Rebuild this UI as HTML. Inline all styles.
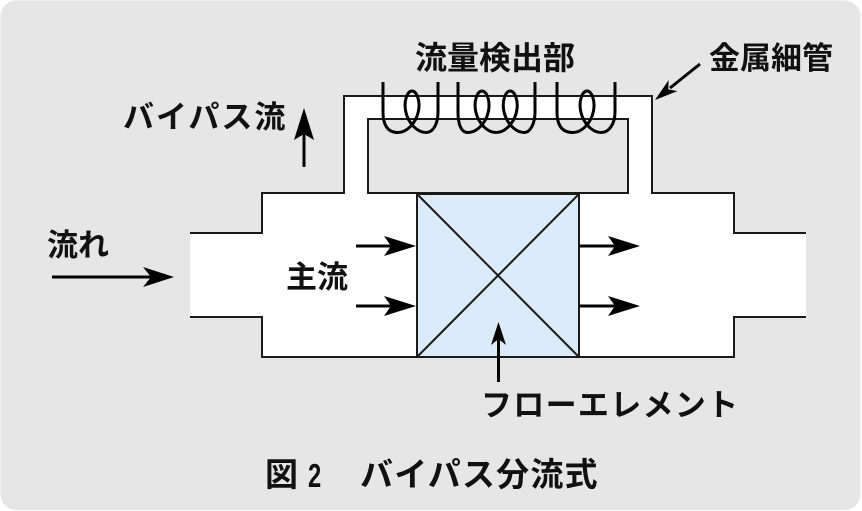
<!DOCTYPE html>
<html><head><meta charset="utf-8"><style>
html,body{margin:0;padding:0;background:#fff;}
svg{display:block;}
text{font-family:"Liberation Sans","Noto Sans CJK JP",sans-serif;font-weight:bold;fill:#111;}
</style></head><body>
<svg width="862" height="511" viewBox="0 0 862 511" xmlns="http://www.w3.org/2000/svg">
<rect x="0.5" y="0.5" width="860" height="509.5" rx="16" ry="16" fill="#e6e6e6"/>
<!-- pipe white region -->
<polygon points="190,233 262,233 262,193 344,193 344,96 652,96 652,193 734,193 734,233 806,233 806,317 734,317 734,357 262,357 262,317 190,317" fill="#fff"/>
<polyline points="190,233 262,233 262,193 344,193 344,96 652,96 652,193 734,193 734,233 806,233" fill="none" stroke="#1a1a1a" stroke-width="2"/>
<polyline points="806,317 734,317 734,357 262,357 262,317 190,317" fill="none" stroke="#1a1a1a" stroke-width="2"/>
<rect x="368" y="119" width="260" height="74" fill="#e6e6e6" stroke="#1a1a1a" stroke-width="2"/>
<!-- flow element -->
<rect x="417" y="194" width="162" height="163" fill="#dcebfa" stroke="#1a1a1a" stroke-width="2"/>
<line x1="417" y1="194" x2="579" y2="357" stroke="#1a1a1a" stroke-width="2"/>
<line x1="579" y1="194" x2="417" y2="357" stroke="#1a1a1a" stroke-width="2"/>
<!-- coils -->
<g fill="none" stroke="#000" stroke-width="3">
<path d="M383,82 L383,112 C383,124 387,132.5 397.9,132.5
C407.2,132.5 415.9,122.7 418.3,111.8 C420.7,100.9 416.6,91 412,91 C407.4,91 403.4,100.9 405.8,111.8 C408.2,122.7 416.8,132.5 426.1,132.5
C433,132.5 438,124 438,112 L438,82"/>
<path d="M458,82 L458,112 C458,124 461,132.5 467.9,132.5
C477.2,132.5 485.9,122.7 488.3,111.8 C490.7,100.9 486.6,91 482,91 C477.4,91 473.4,100.9 475.8,111.8 C478.2,122.7 486.8,132.5 496.1,132.5
C505.4,132.5 514.1,122.7 516.5,111.8 C518.9,100.9 514.8,91 510.2,91 C505.6,91 501.6,100.9 504,111.8 C506.4,122.7 515,132.5 524.3,132.5
C530,132.5 535,124 535,112 L535,82"/>
<path d="M557,82 L557,112 C557,124 561,132.5 572.9,132.5
C582.2,132.5 590.9,122.7 593.3,111.8 C595.7,100.9 591.6,91 587,91 C582.4,91 578.4,100.9 580.8,111.8 C583.2,122.7 591.8,132.5 601.1,132.5
C609,132.5 615,124 615,112 L615,82"/>
</g>
<!-- arrows -->
<g stroke="#000" stroke-width="3" fill="none">
<line x1="52" y1="277" x2="152" y2="277"/>
<line x1="356" y1="246" x2="392" y2="246"/>
<line x1="356" y1="306" x2="392" y2="306"/>
<line x1="579" y1="246" x2="615" y2="246"/>
<line x1="579" y1="306" x2="615" y2="306"/>
<line x1="498.5" y1="382" x2="498.5" y2="338"/>
<line x1="304" y1="167" x2="304" y2="130"/>
<line x1="700" y1="64" x2="670" y2="88"/>
</g>
<g fill="#000">
<polygon points="174,277 143,267 151,277 143,287"/>
<polygon points="416,246 384,236 391,246 384,256"/>
<polygon points="416,306 384,296 391,306 384,316"/>
<polygon points="640,246 608,236 615,246 608,256"/>
<polygon points="640,306 608,296 615,306 608,316"/>
<polygon points="498.5,322 491,345 498.5,339 506,345"/>
<polygon points="304,108 294,140 304,134 314,140"/>
<polygon points="655,100 668.6,80.1 668.3,89.4 677.4,91.1"/>
</g>
<!-- labels -->
<text x="415" y="69" font-size="32">流量検出部</text>
<text x="709" y="69" font-size="31">金属細管</text>
<text x="123" y="128" font-size="31" letter-spacing="2">バイパス流</text>
<text x="47" y="256" font-size="31">流れ</text>
<text x="286" y="288" font-size="31">主流</text>
<text x="481" y="416" font-size="31" letter-spacing="1.3">フローエレメント</text>
<text x="265" y="486" font-size="33">図</text>
<text x="0" y="0" font-size="33" transform="translate(308,487) scale(0.72,1)">2</text>
<text x="360" y="486" font-size="33" letter-spacing="1.2">バイパス分流式</text>
</svg>
</body></html>
